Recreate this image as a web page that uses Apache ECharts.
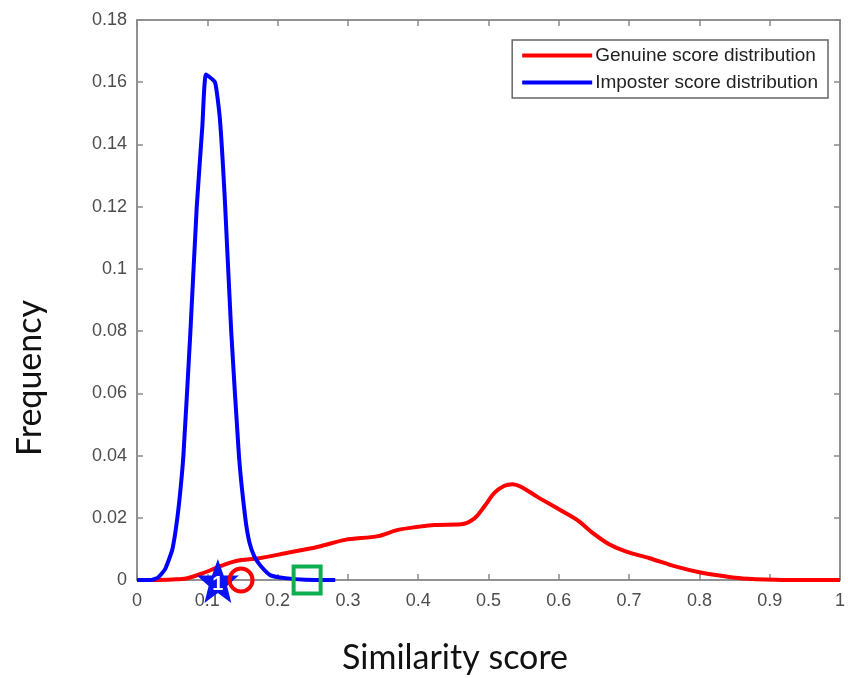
<!DOCTYPE html>
<html>
<head>
<meta charset="utf-8">
<script src="https://cdn.jsdelivr.net/npm/echarts@6/dist/echarts.min.js"></script>
<style>
  html, body { margin: 0; padding: 0; background: #fff; }
  #chart { width: 848px; height: 678px; }
</style>
</head>
<body>
<div id="chart"></div>
<script>
// genuine score distribution (red)
const genuineX = [0.02, 0.05, 0.07, 0.094, 0.117, 0.141, 0.174, 0.211, 0.258, 0.296, 0.343, 0.371, 0.400, 0.423, 0.461, 0.480, 0.494, 0.508, 0.522, 0.534, 0.546, 0.569, 0.602, 0.626, 0.649, 0.673, 0.696, 0.729, 0.767, 0.800, 0.838, 0.861, 0.908, 0.95, 1.0];
const genuineY = [0, 0.0002, 0.0005, 0.0022, 0.0043, 0.0061, 0.007, 0.0086, 0.0107, 0.0129, 0.0141, 0.0161, 0.0171, 0.0177, 0.0179, 0.0198, 0.0236, 0.0279, 0.0302, 0.0308, 0.030, 0.0268, 0.0225, 0.0193, 0.015, 0.0113, 0.0091, 0.007, 0.0043, 0.0025, 0.0011, 0.0005, 0.0001, 0, 0];

// imposter score distribution (blue)
const imposterX = [0, 0.02, 0.03, 0.04, 0.05, 0.055, 0.06, 0.066, 0.076, 0.085, 0.093, 0.098, 0.111, 0.118, 0.125, 0.134, 0.145, 0.154, 0.16, 0.167, 0.176, 0.19, 0.211, 0.24, 0.282];
const imposterY = [0, 0, 0.0008, 0.0035, 0.0096, 0.016, 0.025, 0.04, 0.08, 0.12, 0.146, 0.1625, 0.160, 0.148, 0.122, 0.08, 0.04, 0.02, 0.012, 0.0075, 0.0045, 0.0015, 0.0006, 0.0001, 0];

// markers on the x axis
const starPoint = [0.115, 0];
const circlePoint = [0.148, 0];
const squarePoint = [0.242, 0];

const seriesNames = ['Genuine score distribution', 'Imposter score distribution'];
const xTitle = 'Similarity score';
const yTitle = 'Frequency';

const toPairs = (xs, ys) => xs.map((x, i) => [x, ys[i]]);

const axisGray = '#8a8a8a';
const labelGray = '#4d4d4d';
const starPath = 'path://M50,0 L64,36 L100,36 L72,59 L82,96 L50,74 L18,96 L28,59 L0,36 L36,36 Z';

const tickStyle = { show: true, inside: true, length: 6, lineStyle: { color: axisGray, width: 1.5 } };
const lineStyleAxis = { show: true, onZero: false, lineStyle: { color: axisGray, width: 1.5 } };
const labelStyle = { fontFamily: 'Liberation Sans', fontSize: 18, color: labelGray,
  formatter: v => String(+v.toFixed(2)) };

const chart = echarts.init(document.getElementById('chart'));

const option = {
  animation: false,
  grid: { left: 137, right: 3, top: 20, bottom: 98, show: true, borderColor: axisGray, borderWidth: 1.5 },
  legend: {
    data: seriesNames,
    orient: 'vertical',
    right: 20,
    top: 40,
    padding: [6, 10, 6, 10],
    itemGap: 8,
    itemWidth: 70,
    itemHeight: 4,
    icon: 'rect',
    borderColor: '#666',
    borderWidth: 1.5,
    backgroundColor: '#fff',
    textStyle: { fontFamily: 'Liberation Sans', fontSize: 19, color: '#222', padding: [0, 0, 0, -2] }
  },
  graphic: [
    {
      type: 'text', x: 455, y: 658,
      style: { text: xTitle, font: '34px Lato', fill: '#111', align: 'center', verticalAlign: 'middle' }
    },
    {
      type: 'text', x: 30, y: 378, rotation: Math.PI / 2,
      style: { text: yTitle, font: '34px Lato', fill: '#111', align: 'center', verticalAlign: 'middle' }
    }
  ],
  xAxis: [
    {
      type: 'value', min: 0, max: 1, interval: 0.1, position: 'bottom',
      splitLine: { show: false }, axisLine: lineStyleAxis, axisTick: tickStyle,
      axisLabel: Object.assign({ margin: 12 }, labelStyle)
    },
    {
      type: 'value', min: 0, max: 1, interval: 0.1, position: 'top',
      splitLine: { show: false }, axisLine: lineStyleAxis, axisTick: tickStyle,
      axisLabel: { show: false }
    }
  ],
  yAxis: [
    {
      type: 'value', min: 0, max: 0.18, interval: 0.02, position: 'left',
      splitLine: { show: false }, axisLine: lineStyleAxis, axisTick: tickStyle,
      axisLabel: Object.assign({ margin: 10 }, labelStyle)
    },
    {
      type: 'value', min: 0, max: 0.18, interval: 0.02, position: 'right',
      splitLine: { show: false }, axisLine: lineStyleAxis, axisTick: tickStyle,
      axisLabel: { show: false }
    }
  ],
  series: [
    {
      name: seriesNames[0], type: 'line', data: toPairs(genuineX, genuineY),
      smooth: 0.3, showSymbol: false, color: '#ff0000',
      lineStyle: { color: '#ff0000', width: 4 }, z: 2
    },
    {
      name: seriesNames[1], type: 'line', data: toPairs(imposterX, imposterY),
      xAxisIndex: 1, yAxisIndex: 1,
      smooth: 0.15, showSymbol: false, color: '#0000ff',
      lineStyle: { color: '#0000ff', width: 4 }, z: 3
    },
    {
      type: 'scatter', data: [starPoint], symbol: starPath, symbolSize: [42, 44],
      symbolOffset: [0, 1], zlevel: 1,
      itemStyle: { color: '#0a14f0', opacity: 1 }, z: 4,
      label: { show: true, position: 'inside', formatter: '1', color: '#fff',
        fontFamily: 'Liberation Sans', fontWeight: 'bold', fontSize: 20, offset: [0, 3] }
    },
    {
      type: 'scatter', data: [circlePoint], symbol: 'circle', symbolSize: 23, zlevel: 1,
      itemStyle: { color: 'rgba(0,0,0,0)', borderColor: '#ff0000', borderWidth: 4, opacity: 1 }, z: 5
    },
    {
      type: 'scatter', data: [squarePoint], symbol: 'rect', symbolSize: 27, zlevel: 1,
      itemStyle: { color: 'rgba(0,0,0,0)', borderColor: '#0fae4f', borderWidth: 4, opacity: 1 }, z: 5
    }
  ]
};

chart.setOption(option);
window.addEventListener('resize', () => chart.resize());
</script>
</body>
</html>
